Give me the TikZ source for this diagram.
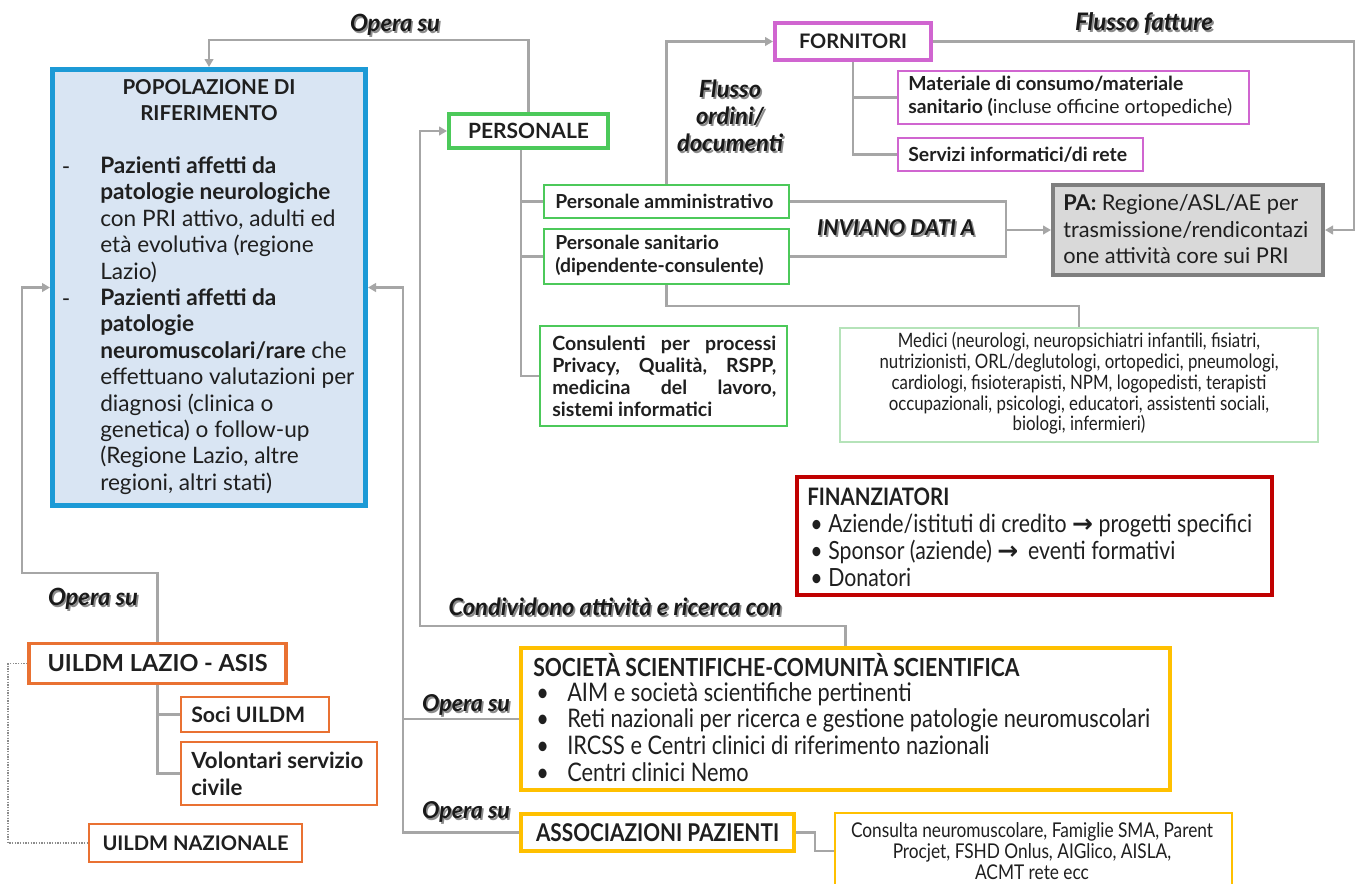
\documentclass[tikz,border=0pt]{standalone}
\usepackage{fontspec}
\setmainfont{Lato}
\newfontfamily\narrowfont[FakeStretch=0.85]{Lato}
\newfontfamily\arrfont{DejaVu Sans}
\usetikzlibrary{arrows.meta}
\definecolor{cgray}{HTML}{A6A6A6}
\definecolor{ctext}{HTML}{1F1F1F}
\definecolor{cblue}{HTML}{1C9AD6}
\definecolor{cbluefill}{HTML}{D9E5F3}
\definecolor{cgreen}{HTML}{4CC95A}
\definecolor{cgreenl}{HTML}{B5E3B9}
\definecolor{cmag}{HTML}{D065D0}
\definecolor{cpa}{HTML}{D9D9D9}
\definecolor{cpab}{HTML}{7F7F7F}
\definecolor{cred}{HTML}{C00000}
\definecolor{cgold}{HTML}{FFC000}
\definecolor{corange}{HTML}{E97132}
\newlength\fitw
\newcommand\fitto[3]{\settowidth\fitw{\fontsize{10pt}{12pt}\selectfont #2}\pgfmathsetmacro\fitsz{7.5*#1/\fitw}\pgfmathsetmacro\fitbs{0.75*#3}\fontsize{\fitsz pt}{\fitbs pt}\selectfont}
\newcommand\shlabel[6]{%
\node[lblsh, font={\bfseries\itshape\fitto{#4}{#5}{27}}] at (#2,#3) {#6};
\node[lbltx, font={\bfseries\itshape\fitto{#4}{#5}{27}}] (#1) at (#2,#3) {#6};}
\tikzset{
  box/.style={draw, inner sep=0pt, text=ctext},
  sz/.style 2 args={minimum width=#1, minimum height=#2},
  txt/.style={inner sep=0pt, text=ctext},
  lblsh/.style={inner sep=0pt, align=center, text=black!45, xshift=1.3pt, yshift=-1.3pt},
  lbltx/.style={inner sep=0pt, align=center, text=black!90},
  conn/.style={draw=cgray, line width=2.2pt},
  sub/.style={draw=cgray, line width=1.6pt},
  arr/.style={-{Triangle[length=6pt,width=6.5pt]}},
  dotl/.style={draw=black!45, line width=0.9pt, dash pattern=on 1pt off 1pt},
}
\begin{document}
\begin{tikzpicture}[x=0.75pt,y=-0.75pt]
\useasboundingbox (0,0) rectangle (1358,883);
\fill[white] (0,0) rectangle (1358,883);

% ---------- boxes ----------
\node[box, draw=cblue, fill=cbluefill, line width=3.75pt, sz={234.75pt}{327pt}] (pop) at (209,287.5) {};
\node[box, draw=cgreen, line width=3pt, sz={119.25pt}{25.5pt}, font={\bfseries\fitto{121}{PERSONALE}{20}}] (pers) at (528.5,131) {PERSONALE};
\node[box, draw=cmag, line width=3pt, sz={117pt}{27.75pt}, font={\bfseries\fitto{108}{FORNITORI}{20}}] (forn) at (853,41.5) {FORNITORI};
\node[box, draw=cmag, line width=1.5pt, sz={263.25pt}{39.75pt}] (mat) at (1073.5,97.5) {};
\node[box, draw=cmag, line width=1.5pt, sz={183.75pt}{24.75pt}] (serv) at (1020.5,154.5) {};
\node[box, draw=cpab, fill=cpa, line width=3pt, sz={202.5pt}{67.5pt}] (pa) at (1188,230) {};
\node[box, draw=cgreen, line width=1.5pt, sz={183.75pt}{24.75pt}] (amm) at (666.5,201.5) {};
\node[box, draw=cgreen, line width=1.5pt, sz={183.75pt}{41.25pt}] (san) at (666.5,256.5) {};
\node[box, draw=cgreen, line width=1.5pt, sz={185.25pt}{75pt}] (cons) at (663.5,376) {};
\node[box, draw=cgreenl, line width=1.1pt, sz={358.5pt}{85.5pt}] (med) at (1079,385) {};
\node[box, draw=cred, line width=3pt, sz={356.25pt}{88.5pt}] (fin) at (1034.5,536) {};
\node[box, draw=cgold, line width=3pt, sz={486.75pt}{106.5pt}] (soc) at (845.5,719) {};
\node[box, draw=cgold, line width=3pt, sz={204.75pt}{27.75pt}, font={\narrowfont\bfseries\fitto{243}{ASSOCIAZIONI PAZIENTI}{20}}] (assoc) at (657.5,832.5) {ASSOCIAZIONI PAZIENTI};
\node[box, draw=cgold, line width=1.1pt, sz={297.75pt}{65.25pt}] (consulta) at (1033.5,856.5) {};
\node[box, draw=corange, line width=2.6pt, sz={192.75pt}{30pt}, font={\bfseries\fitto{220}{UILDM LAZIO - ASIS}{20}}] (lazio) at (157.5,663.5) {UILDM LAZIO - ASIS};
\node[box, draw=corange, line width=1.5pt, sz={111pt}{26.25pt}] (soci) at (255,714.5) {};
\node[box, draw=corange, line width=1.5pt, sz={147pt}{47.25pt}] (vol) at (279,773.5) {};
\node[box, draw=corange, line width=1.5pt, sz={159.75pt}{28.5pt}, font={\bfseries\fitto{186}{UILDM NAZIONALE}{20}}] (naz) at (195.5,843) {UILDM NAZIONALE};

% ---------- texts inside boxes ----------
\node[txt, align=center, font={\bfseries\fitto{173}{POPOLAZIONE DI}{26}}] (popt) at (209,100) {POPOLAZIONE DI\\RIFERIMENTO};
\tikzset{popfont/.style={font={\fitto{230}{\bfseries patologie neurologiche}{26.4}}}}
\node[txt, popfont] (d1) at (66,171) {-};
\node[txt, popfont] (d2) at (66,303) {-};
\node[txt, popfont, anchor=west, align=left] (popb) at (100,325.5) {\textbf{Pazienti affetti da}\\\textbf{patologie neurologiche}\\con PRI attivo, adulti ed\\età evolutiva (regione\\Lazio)\\\textbf{Pazienti affetti da}\\\textbf{patologie}\\\textbf{neuromuscolari/rare} che\\effettuano valutazioni per\\diagnosi (clinica o\\genetica) o follow-up\\(Regione Lazio, altre\\regioni, altri stati)};

\tikzset{matfont/.style={font={\fitto{275}{\bfseries Materiale di consumo/materiale}{23}}}}
\node[txt, matfont, anchor=west, align=left] (matt) at (908,96.5) {\textbf{Materiale di consumo/materiale}\\\textbf{sanitario (}incluse officine ortopediche)};
\node[txt, matfont, anchor=west] (servt) at (908,154.5) {\textbf{Servizi informatici/di rete}};

\node[txt, anchor=west, align=left, font={\fitto{245}{trasmissione/rendicontazi}{26.5}}] (pat) at (1063,229.5) {\textbf{PA:} Regione/ASL/AE per\\trasmissione/rendicontazi\\one attività core sui PRI};

\tikzset{ammfont/.style={font={\bfseries\fitto{218}{Personale amministrativo}{23}}}}
\node[txt, ammfont, anchor=west] (ammt) at (555,201.5) {Personale amministrativo};
\node[txt, ammfont, anchor=west, align=left] (sant) at (555,255.5) {Personale sanitario\\(dipendente-consulente)};
\node[txt, anchor=west, text width=168pt, align=justify, font={\bfseries\fitto{160}{sistemi informatici}{22}}] (const) at (552,376) {Consulenti per processi\linebreak Privacy, Qualità, RSPP,\linebreak medicina del lavoro,\linebreak sistemi informatici};

\node[txt, align=center, font={\narrowfont\fitto{399}{nutrizionisti, ORL/deglutologi, ortopedici, pneumologi,}{20.75}}] (medt) at (1079,383.5) {Medici (neurologi, neuropsichiatri infantili, fisiatri,\\nutrizionisti, ORL/deglutologi, ortopedici, pneumologi,\\cardiologi, fisioterapisti, NPM, logopedisti, terapisti\\occupazionali, psicologi, educatori, assistenti sociali,\\biologi, infermieri)};

\node[txt, anchor=west, font={\narrowfont\bfseries\fitto{142}{FINANZIATORI}{20}}] (fint) at (807,497) {FINANZIATORI};
\node[txt, anchor=west, align=left, font={\narrowfont\fitto{424}{Aziende/istituti di credito {\arrfont\bfseries →} progetti specifici}{27}}] (finb) at (810,550) {\makebox[13.5pt][l]{•}Aziende/istituti di credito {\arrfont\bfseries →} progetti specifici\\\makebox[13.5pt][l]{•}Sponsor (aziende) {\arrfont\bfseries →}\ \,eventi formativi\\\makebox[13.5pt][l]{•}Donatori};

\node[txt, anchor=west, font={\narrowfont\bfseries\fitto{486}{SOCIETÀ SCIENTIFICHE-COMUNITÀ SCIENTIFICA}{20}}] (soct) at (533,665) {SOCIETÀ SCIENTIFICHE-COMUNITÀ SCIENTIFICA};
\node[txt, anchor=west, align=left, font={\narrowfont\fitto{583}{Reti nazionali per ricerca e gestione patologie neuromuscolari}{26.7}}] (socb) at (536,732) {\makebox[23.25pt][l]{•}AIM e società scientifiche pertinenti\\\makebox[23.25pt][l]{•}Reti nazionali per ricerca e gestione patologie neuromuscolari\\\makebox[23.25pt][l]{•}IRCSS e Centri clinici di riferimento nazionali\\\makebox[23.25pt][l]{•}Centri clinici Nemo};

\node[txt, align=center, font={\narrowfont\fitto{362}{Consulta neuromuscolare, Famiglie SMA, Parent}{21}}] (consultat) at (1032,851) {Consulta neuromuscolare, Famiglie SMA, Parent\\Procjet, FSHD Onlus, AIGlico, AISLA,\\ACMT rete ecc};

\node[txt, anchor=west, font={\bfseries\fitto{114}{Soci UILDM}{20}}] (socit) at (191,714.5) {Soci UILDM};
\node[txt, anchor=west, align=left, font={\bfseries\fitto{172}{Volontari servizio}{27}}] (volt) at (191,773.5) {Volontari servizio\\civile};

% ---------- labels ----------
\shlabel{l1}{395}{25}{90}{Opera su}{Opera su}
\shlabel{l2}{1144}{23}{138}{Flusso fatture}{Flusso fatture}
\shlabel{l3}{730}{116}{106}{documenti}{Flusso\\ordini/\\documenti}
\shlabel{l4}{896}{228}{158}{INVIANO DATI A}{INVIANO DATI A}
\shlabel{l5}{93}{599}{90}{Opera su}{Opera su}
\shlabel{l6}{615}{607}{333}{Condividono attività e ricerca con}{Condividono attività e ricerca con}
\shlabel{l7}{466}{705}{88}{Opera su}{Opera su}
\shlabel{l8}{466}{812}{88}{Opera su}{Opera su}

% ---------- connectors ----------
\coordinate (c1) at (209,40);
\draw[conn,arr] (pers.north) |- (c1) -- (pop.north);
\coordinate (c2) at (420,626);
\draw[conn,arr] (soc.north) |- (c2) |- (pers.west);
\coordinate (c3) at (403,832.5);
\draw[conn,arr] (assoc.west) -- (c3) |- (pop.east);
\draw[conn] (soc.west) -- (soc.west -| c3);
\coordinate (c4) at (22,573);
\draw[conn,arr] (lazio.north) |- (c4) |- (pop.west);
\draw[sub] (lazio.south) |- (vol.west);
\draw[sub] (soci.west) -- (soci.west -| lazio.south);
\coordinate (c5) at (8,663.5);
\draw[dotl] (lazio.west) -- (c5) |- (naz.west);
\coordinate (c6) at (521,376);
\draw[sub] (pers.south -| c6) -- (c6) -- (cons.west);
\draw[sub] (amm.west) -- (amm.west -| c6);
\draw[sub] (san.west) -- (san.west -| c6);
\draw[conn,arr] (amm.north) |- (forn.west);
\draw[sub] (forn.south) |- (serv.west);
\draw[sub] (mat.west) -- (mat.west -| forn.south);
\coordinate (c7) at (1354,41.5);
\draw[conn,arr] (forn.east) -- (c7) |- (pa.east);
\coordinate (c8) at (1006,230);
\draw[sub] (amm.east) -| (c8);
\draw[sub] (san.east) -| (c8);
\draw[sub,arr] (c8) -- (pa.west);
\coordinate (c9) at (1079,306);
\draw[sub] (san.south) |- (c9) -- (med.north);
\coordinate (c10) at (815,851);
\draw[sub] (assoc.east) -| (c10) -- (c10 -| consulta.west);
\end{tikzpicture}
\end{document}
